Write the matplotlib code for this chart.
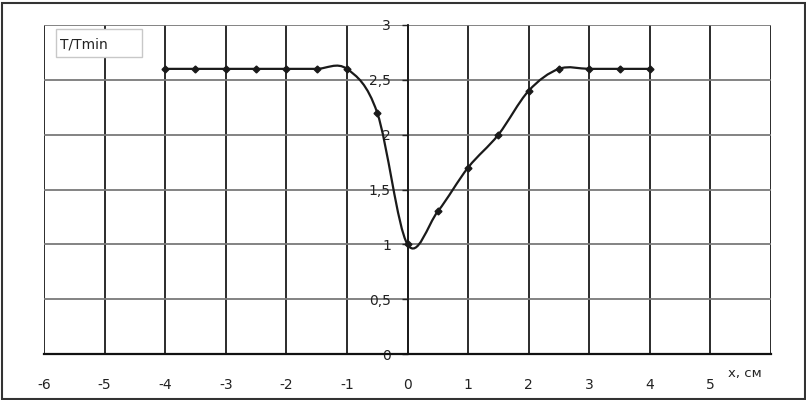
import matplotlib
matplotlib.use('Agg')
import matplotlib.pyplot as plt
from matplotlib.path import Path
from matplotlib.patches import PathPatch, Rectangle
from matplotlib.ticker import FuncFormatter
import numpy as np

x_cm = [-4, -3.5, -3, -2.5, -2, -1.5, -1, -0.5, 0, 0.5, 1, 1.5, 2, 2.5, 3, 3.5, 4]
t_ratio = [2.6, 2.6, 2.6, 2.6, 2.6, 2.6, 2.6, 2.2, 1.0, 1.3, 1.7, 2.0, 2.4, 2.6, 2.6, 2.6, 2.6]
x_ticks = [-6, -5, -4, -3, -2, -1, 0, 1, 2, 3, 4, 5]
y_ticks = [0, 0.5, 1, 1.5, 2, 2.5, 3]

plt.rcParams['font.family'] = 'DejaVu Sans'
plt.rcParams['font.size'] = 10
plt.rcParams['axes.unicode_minus'] = False

fig = plt.figure(figsize=(8.06, 4.0), dpi=100)
ax = fig.add_axes([44 / 806, 1 - 354 / 400, (771 - 44) / 806, (354 - 25) / 400])
ax.set_xlim(-6, 6)
ax.set_ylim(0, 3)

# grid
for xv in range(-6, 7):
    ax.axvline(xv, color='#1a1a1a', lw=1.3, zorder=1)
for yv in y_ticks[1:]:
    ax.axhline(yv, color='#7a7a7a', lw=1.3, zorder=1)

for s in ['top', 'right']:
    ax.spines[s].set_visible(False)
ax.spines['bottom'].set_linewidth(1.6)
ax.spines['bottom'].set_color('#111111')

# y axis drawn at x = 0, labels to the left of it
ax.spines['left'].set_position(('data', 0))
ax.spines['left'].set_linewidth(1.3)
ax.spines['left'].set_color('#1a1a1a')
ax.set_yticks(y_ticks)
ax.yaxis.set_major_formatter(FuncFormatter(lambda v, p: f"{v:g}".replace('.', ',')))
ax.tick_params(axis='y', direction='out', length=4, width=1, pad=8, colors='#222222',
               labelsize=10)

ax.set_xticks(x_ticks)
ax.set_xticklabels([str(v) for v in x_ticks])
ax.tick_params(axis='x', length=0, pad=17, colors='#222222', labelsize=10)

# smoothed line (Bezier segments through the points, Excel style)
pts = np.column_stack([x_cm, t_ratio])
verts = [tuple(pts[0])]
codes = [Path.MOVETO]
n = len(pts)
for i in range(n - 1):
    p0 = pts[max(i - 1, 0)]
    p1 = pts[i]
    p2 = pts[i + 1]
    p3 = pts[min(i + 2, n - 1)]
    c1 = p1 + (p2 - p0) / 6
    c2 = p2 - (p3 - p1) / 6
    verts += [tuple(c1), tuple(c2), tuple(p2)]
    codes += [Path.CURVE4] * 3
ax.add_patch(PathPatch(Path(verts, codes), facecolor='none', edgecolor='#1a1a1a',
                       lw=1.6, zorder=3))
ax.plot(x_cm, t_ratio, linestyle='none', marker='D', markersize=3.5, color='#1a1a1a', zorder=4)

# legend box
fig.patches.append(Rectangle((56 / 806, 1 - 57 / 400), 86 / 806, 28 / 400,
                             transform=fig.transFigure, facecolor='white',
                             edgecolor='#c8c8c8', lw=1, zorder=5))
fig.text(60 / 806, 1 - 44 / 400, 'T/Tmin', ha='left', va='center', fontsize=10,
         color='#222222', zorder=6)

fig.text(745 / 806, 1 - 373 / 400, 'x, см', ha='center', va='center', fontsize=9.5,
         color='#222222')

# outer frame
fig.patches.append(Rectangle((1.5 / 806, 1.5 / 400), 803 / 806, 396 / 400,
                             transform=fig.transFigure, facecolor='none',
                             edgecolor='#333333', lw=1.5))

fig.savefig('out.png', dpi=100)
